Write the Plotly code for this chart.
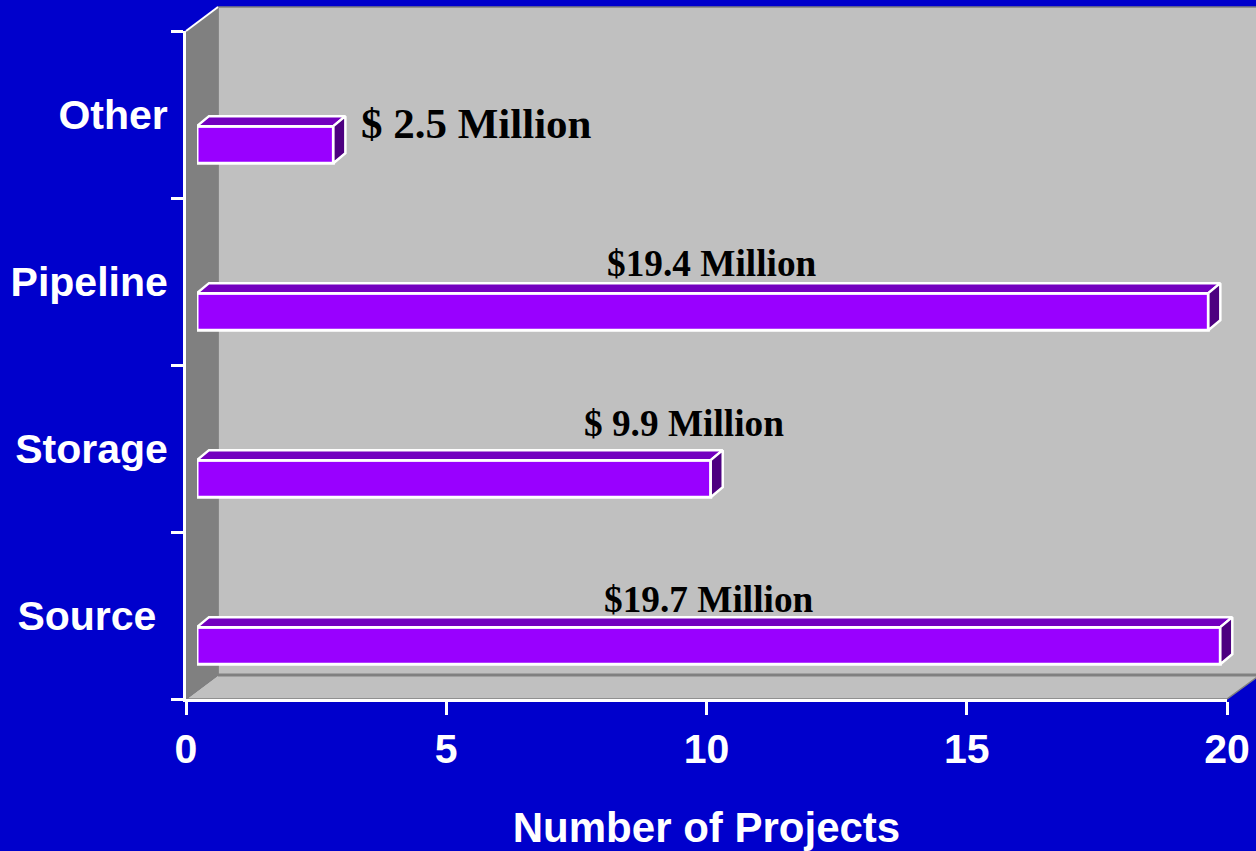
import plotly.graph_objects as go

W, H = 1256, 851

# Data
categories = ["Source", "Storage", "Pipeline", "Other"]
tick_labels = ["Source\u00a0", "Storage", "Pipeline", "Other"]
projects = [19.66, 9.87, 19.43, 2.62]
funding_labels = ["$19.7 Million", "$ 9.9 Million", "$19.4 Million", "$ 2.5 Million"]
label_x = [10.04, 9.57, 10.11, 5.58]
label_shift = [16, 25, 18, -9]
label_size = [37.3, 37.3, 37.3, 43]
x_ticks = [0, 5, 10, 15, 20]

# Layout geometry (pixels)
AX_L, AX_R, AX_T, AX_B = 186, 1227, 31, 699
BAR_DX, BAR_DY = 11, 30.2
DEPTH_X, DEPTH_Y = 12, 10
WALL_DX, WALL_DY = 32, 24

px_x = lambda p: p / W
px_y = lambda p: 1 - p / H
unit_x = (AX_R - AX_L) / 20
unit_y = (AX_B - AX_T) / 4
dx_u = DEPTH_X / unit_x
dy_u = DEPTH_Y / unit_y
bar_w = 0.222

WHITE = "#FFFFFF"
fig = go.Figure()

# Invisible trace that gives the main axes their categories
fig.add_trace(go.Scatter(x=projects, y=tick_labels, mode="markers", marker=dict(opacity=0),
                         hoverinfo="skip", showlegend=False, xaxis="x", yaxis="y"))

# Bar front faces
fig.add_trace(go.Bar(x=projects, y=list(range(len(categories))), orientation="h", width=bar_w,
                     marker=dict(color="#9900FF", line=dict(color=WHITE, width=3)),
                     showlegend=False, xaxis="x2", yaxis="y2"))

# Bar top and side faces
for i, v in enumerate(projects):
    top = i + bar_w / 2
    bot = i - bar_w / 2
    fig.add_trace(go.Scatter(
        x=[0, dx_u, v + dx_u, v, 0], y=[top, top + dy_u, top + dy_u, top, top],
        mode="lines", fill="toself", fillcolor="#7300BF", line=dict(color=WHITE, width=2.5),
        showlegend=False, hoverinfo="skip", xaxis="x2", yaxis="y2", cliponaxis=False))
    fig.add_trace(go.Scatter(
        x=[v, v + dx_u, v + dx_u, v, v], y=[top, top + dy_u, bot + dy_u, bot, top],
        mode="lines", fill="toself", fillcolor="#4D0080", line=dict(color=WHITE, width=2.5),
        showlegend=False, hoverinfo="skip", xaxis="x2", yaxis="y2", cliponaxis=False))


def poly(points):
    return "M " + " L ".join(f"{px_x(x):.5f},{px_y(y):.5f}" for x, y in points) + " Z"


wall_common = dict(type="path", xref="paper", yref="paper", layer="below")
shapes = [
    # back wall
    dict(path=poly([(AX_L + WALL_DX, AX_T - WALL_DY), (W + 4, AX_T - WALL_DY), (W + 4, AX_B - WALL_DY),
                    (AX_L + WALL_DX, AX_B - WALL_DY)]),
         fillcolor="#C0C0C0", line=dict(color="#808080", width=1.5), **wall_common),
    # floor
    dict(path=poly([(AX_L, AX_B), (AX_L + WALL_DX, AX_B - WALL_DY), (W + 4, AX_B - WALL_DY),
                    (AX_R, AX_B)]),
         fillcolor="#C0C0C0", line=dict(color="#808080", width=1.5), **wall_common),
    # left wall
    dict(path=poly([(AX_L, AX_T), (AX_L + WALL_DX, AX_T - WALL_DY), (AX_L + WALL_DX, AX_B - WALL_DY),
                    (AX_L, AX_B)]),
         fillcolor="#808080", line=dict(color="#808080", width=1), **wall_common),
    # white top edge of the left wall
    dict(type="line", xref="paper", yref="paper", layer="below",
         x0=px_x(AX_L), y0=px_y(AX_T), x1=px_x(AX_L + WALL_DX), y1=px_y(AX_T - WALL_DY),
         line=dict(color=WHITE, width=2)),
    # back-wall / floor seam
    dict(type="line", xref="paper", yref="paper", layer="below",
         x0=px_x(AX_L + WALL_DX), y0=px_y(AX_B - WALL_DY), x1=1, y1=px_y(AX_B - WALL_DY),
         line=dict(color="#808080", width=3)),
]

annotations = [
    dict(x=lx, y=lab, xref="x", yref="y", text=f"<b>{t}</b>", showarrow=False, yshift=s,
         xanchor="center", yanchor="middle",
         font=dict(family="Liberation Serif", size=sz, color="#000000"))
    for lx, lab, t, s, sz in zip(label_x, tick_labels, funding_labels, label_shift, label_size)
]

axis_font = dict(family="Liberation Sans", size=41, color=WHITE)
title_font = dict(family="Liberation Sans", size=42, color=WHITE)

fig.update_layout(
    width=W, height=H, margin=dict(l=0, r=0, t=0, b=0),
    paper_bgcolor="#0000CC", plot_bgcolor="rgba(0,0,0,0)",
    showlegend=False, shapes=shapes, annotations=annotations,
    xaxis=dict(domain=[px_x(AX_L), px_x(AX_R)], range=[0, 20], anchor="y", automargin=False,
               tickmode="array", tickvals=x_ticks, ticktext=[f"<b>{t}</b>" for t in x_ticks],
               ticks="outside", ticklen=13, tickwidth=3, tickcolor=WHITE,
               showline=True, linecolor=WHITE, linewidth=3, showgrid=False, zeroline=False,
               tickfont=axis_font, ticklabelstandoff=-1,
               title=dict(text="<b>Number of Projects</b>", font=title_font, standoff=44)),
    yaxis=dict(domain=[px_y(AX_B), px_y(AX_T)], type="category", anchor="x", automargin=False,
               categoryorder="array", categoryarray=tick_labels, range=[-0.5, 3.5],
               tickmode="array", tickvals=tick_labels, ticktext=[f"<b>{t}</b>" for t in tick_labels],
               tickson="boundaries", ticks="outside", ticklen=12, tickwidth=3, tickcolor=WHITE,
               showline=True, linecolor=WHITE, linewidth=3, showgrid=False, zeroline=False,
               tickfont=axis_font, ticklabelstandoff=7),
    xaxis2=dict(domain=[px_x(AX_L + BAR_DX), px_x(AX_R + BAR_DX)], range=[0, 20], anchor="y2",
                visible=False, automargin=False),
    yaxis2=dict(domain=[px_y(AX_B + BAR_DY), px_y(AX_T + BAR_DY)], range=[-0.5, 3.5], anchor="x2",
                visible=False, automargin=False),
)

fig.write_html("out.html", config=dict(displayModeBar=False),
               post_script="document.body.style.margin='0';Plotly.Plots.resize(document.getElementsByClassName('plotly-graph-div')[0]);")
